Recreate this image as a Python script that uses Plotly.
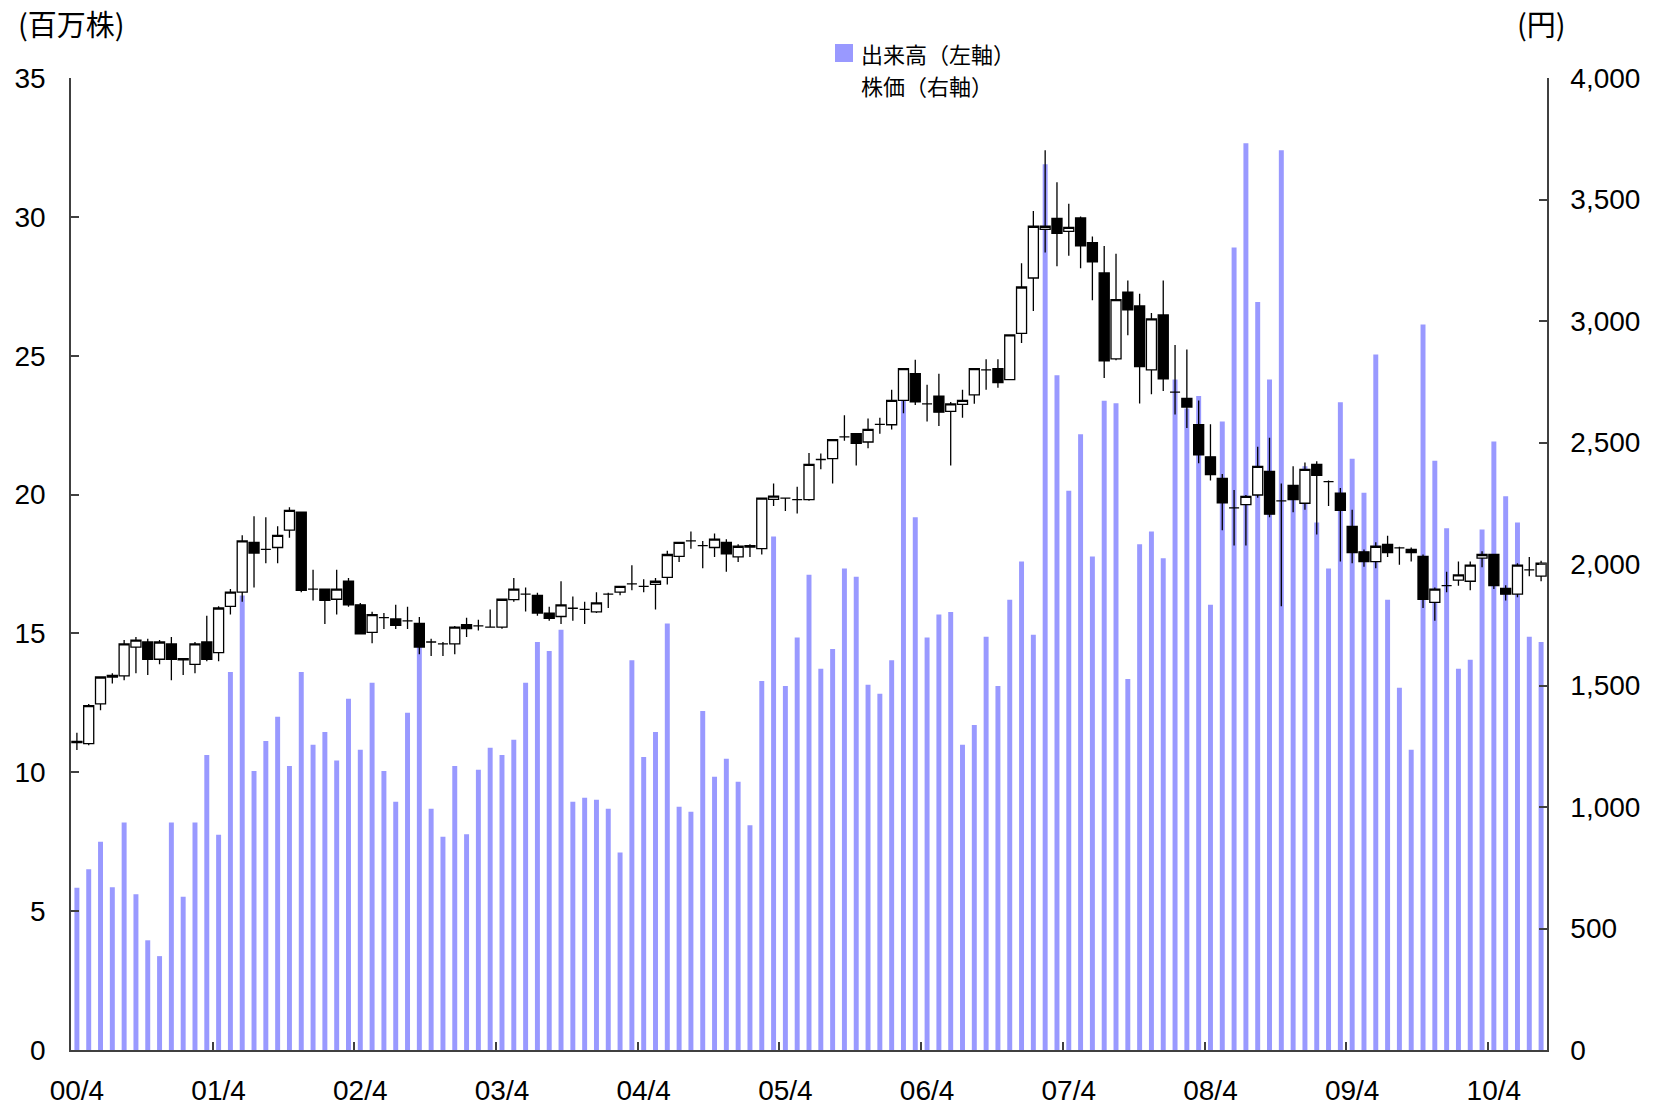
import plotly.graph_objects as go

# Year-start labels on the month axis (April of each year)
tick_labels = ["00/4", "01/4", "02/4", "03/4", "04/4", "05/4",
               "06/4", "07/4", "08/4", "09/4", "10/4"]

# Monthly trading volume, million shares (left axis), 2000/4 .. 2010/8
volume = [
    5.84, 6.51, 7.50, 5.86, 8.19, 5.61, 3.95, 3.38, 8.19, 5.52, 8.19, 10.62,
    7.75, 13.61, 16.37, 10.05, 11.13, 12.00, 10.23, 13.61, 10.99, 11.45, 10.42, 12.65,
    10.81, 13.22, 10.05, 8.94, 12.14, 14.53, 8.69, 7.68, 10.23, 7.77, 10.09, 10.88,
    10.62, 11.17, 13.22, 14.69, 14.37, 15.13, 8.94, 9.08, 9.01, 8.69, 7.11, 14.03,
    10.55, 11.45, 15.36, 8.76, 8.58, 12.21, 9.84, 10.49, 9.66, 8.09, 13.29, 18.49,
    13.11, 14.85, 17.11, 13.73, 14.44, 17.34, 17.04, 13.15, 12.83, 14.03, 23.40, 19.18,
    14.85, 15.68, 15.77, 10.99, 11.70, 14.88, 13.11, 16.21, 17.59, 14.95, 31.89, 24.30,
    20.14, 22.17, 17.77, 23.38, 23.29, 13.36, 18.21, 18.67, 17.71, 24.14, 23.10, 23.55,
    16.03, 22.63, 28.90, 32.65, 26.93, 24.14, 32.40, 20.00, 21.02, 18.99, 17.34, 23.32,
    21.29, 20.07, 25.04, 16.21, 13.04, 10.81, 26.12, 21.22, 18.79, 13.73, 14.05, 18.74,
    21.91, 19.94, 18.99, 14.88, 14.69,
]

# Monthly share price, yen (right axis)
price_open = [
    1265, 1261, 1424, 1535, 1540, 1658, 1679, 1608, 1671, 1610, 1587, 1679,
    1635, 1826, 1884, 2089, 2060, 2068, 2139, 2213, 1897, 1897, 1855, 1929,
    1832, 1719, 1779, 1774, 1766, 1756, 1679, 1671, 1671, 1750, 1745, 1740,
    1740, 1853, 1876, 1871, 1798, 1784, 1818, 1813, 1803, 1876, 1884, 1918,
    1908, 1916, 1945, 2031, 2095, 2076, 2068, 2089, 2029, 2076, 2063, 2266,
    2271, 2265, 2265, 2430, 2434, 2523, 2536, 2502, 2575, 2573, 2673, 2783,
    2659, 2691, 2628, 2657, 2696, 2799, 2804, 2759, 2949, 3177, 3377, 3422,
    3369, 3424, 3322, 3198, 2844, 3119, 3062, 2799, 3025, 2707, 2681, 2573,
    2441, 2352, 2231, 2244, 2284, 2381, 2260, 2323, 2250, 2410, 2339, 2292,
    2155, 2050, 2010, 2081, 2066, 2060, 2031, 1842, 1911, 1934, 1929, 2024,
    2039, 1900, 1876, 1976, 1950,
]
price_high = [
    1306, 1424, 1535, 1550, 1687, 1700, 1692, 1687, 1700, 1613, 1679, 1787,
    1826, 1897, 2118, 2197, 2192, 2155, 2234, 2213, 1976, 1897, 1976, 1942,
    1840, 1803, 1798, 1832, 1824, 1782, 1692, 1679, 1745, 1779, 1771, 1813,
    1855, 1942, 1903, 1882, 1824, 1929, 1866, 1845, 1884, 1882, 1908, 1995,
    1937, 1942, 2055, 2089, 2134, 2095, 2126, 2102, 2081, 2081, 2271, 2331,
    2271, 2318, 2457, 2455, 2512, 2612, 2536, 2599, 2602, 2717, 2804, 2841,
    2738, 2783, 2667, 2717, 2804, 2843, 2843, 2943, 3238, 3453, 3703, 3571,
    3482, 3430, 3348, 3309, 3277, 3167, 3112, 3033, 3167, 2901, 2883, 2673,
    2575, 2370, 2305, 2284, 2483, 2520, 2331, 2402, 2418, 2423, 2344, 2313,
    2223, 2060, 2089, 2116, 2071, 2068, 2039, 1903, 1968, 2010, 2010, 2052,
    2039, 1913, 2003, 2029, 2013,
]
price_low = [
    1235, 1254, 1398, 1508, 1522, 1550, 1543, 1587, 1522, 1543, 1550, 1600,
    1600, 1792, 1845, 1903, 2003, 2003, 2108, 1884, 1850, 1753, 1792, 1824,
    1713, 1674, 1732, 1732, 1732, 1629, 1621, 1621, 1629, 1700, 1726, 1740,
    1734, 1845, 1805, 1787, 1766, 1753, 1766, 1753, 1798, 1819, 1871, 1892,
    1884, 1813, 1916, 2008, 2063, 1982, 2029, 1968, 2008, 2029, 2039, 2239,
    2218, 2208, 2260, 2390, 2331, 2507, 2405, 2476, 2536, 2554, 2620, 2654,
    2586, 2568, 2405, 2602, 2659, 2717, 2725, 2759, 2909, 3041, 3282, 3225,
    3269, 3217, 3085, 2765, 2838, 2941, 2660, 2699, 2712, 2615, 2560, 2415,
    2344, 2139, 2076, 2076, 2273, 2192, 1826, 2213, 2223, 2121, 2239, 2010,
    2003, 1989, 1982, 2029, 1997, 2010, 1819, 1766, 1884, 1911, 1892, 1987,
    1897, 1850, 1863, 1950, 1929,
]
price_close = [
    1270, 1417, 1535, 1542, 1671, 1687, 1608, 1679, 1608, 1606, 1671, 1608,
    1819, 1884, 2095, 2045, 2060, 2118, 2221, 1892, 1897, 1850, 1897, 1832,
    1713, 1792, 1779, 1748, 1766, 1658, 1679, 1671, 1740, 1734, 1745, 1740,
    1855, 1897, 1876, 1798, 1776, 1832, 1818, 1813, 1840, 1876, 1908, 1918,
    1908, 1929, 2039, 2089, 2095, 2076, 2102, 2042, 2073, 2070, 2271, 2279,
    2271, 2265, 2410, 2430, 2512, 2523, 2497, 2554, 2575, 2673, 2804, 2667,
    2659, 2625, 2659, 2673, 2804, 2799, 2746, 2943, 3140, 3390, 3390, 3361,
    3385, 3309, 3243, 2836, 3088, 3046, 2812, 3009, 2762, 2707, 2646, 2449,
    2368, 2252, 2231, 2278, 2402, 2205, 2260, 2265, 2389, 2365, 2339, 2221,
    2047, 2010, 2073, 2047, 2066, 2047, 1855, 1897, 1911, 1955, 1995, 2039,
    1911, 1876, 1995, 1976, 2003,
]

n = len(volume)
x = list(range(n))

# Page geometry and plot-area margins (pixels)
W, H = 1661, 1107
ML, MR, MT, MB = 71, 114, 78, 57
PW = W - ML - MR
PH = H - MT - MB


def xp(px):
    """Pixel column -> paper x."""
    return (px - ML) / PW


def yp(py):
    """Pixel row (from top) -> paper y."""
    return (H - MB - py) / PH


AXIS_COLOR = "#404040"
NUM_FONT = dict(family="Liberation Sans, Arial, sans-serif", size=28, color="black")
JP_FONT = "Noto Sans CJK JP, sans-serif"

fig = go.Figure()

fig.add_trace(go.Bar(
    x=x, y=volume, name="出来高（左軸）",
    marker=dict(color="#9999FF", line=dict(width=0)),
    width=0.42, yaxis="y", showlegend=False,
))

fig.add_trace(go.Candlestick(
    x=x, open=price_open, high=price_high, low=price_low, close=price_close,
    name="株価（右軸）", yaxis="y2", whiskerwidth=0, showlegend=False,
    increasing=dict(line=dict(color="black", width=1.3), fillcolor="white"),
    decreasing=dict(line=dict(color="black", width=1.3), fillcolor="black"),
))

fig.update_layout(
    width=W, height=H,
    margin=dict(l=ML, r=MR, t=MT, b=MB, pad=0, autoexpand=False),
    paper_bgcolor="white", plot_bgcolor="white",
    boxgap=0.15, boxgroupgap=0,
    showlegend=False,
    xaxis=dict(
        range=[-0.5, n - 0.5],
        tickmode="array",
        tickvals=[12 * k for k in range(len(tick_labels))],
        ticktext=tick_labels,
        ticks="",
        tickfont=NUM_FONT,
        ticklabelstandoff=15,
        showline=True, linecolor=AXIS_COLOR, linewidth=1.5,
        showgrid=False, zeroline=False, automargin=False,
        minor=dict(
            tickmode="array",
            tickvals=[12 * k - 0.5 for k in range(1, len(tick_labels))],
            ticks="inside", ticklen=8, tickwidth=1.5, tickcolor=AXIS_COLOR,
            showgrid=False,
        ),
        rangeslider=dict(visible=False),
        fixedrange=True,
    ),
    yaxis=dict(
        range=[0, 35], dtick=5, tick0=0,
        ticks="inside", ticklen=8, tickwidth=1.5, tickcolor=AXIS_COLOR,
        tickfont=NUM_FONT, ticklabelstandoff=18,
        showline=True, linecolor=AXIS_COLOR, linewidth=1.5,
        showgrid=False, zeroline=False, fixedrange=True, automargin=False,
    ),
    yaxis2=dict(
        range=[0, 4000], dtick=500, tick0=0, tickformat=",d",
        overlaying="y", side="right",
        ticks="inside", ticklen=8, tickwidth=1.5, tickcolor=AXIS_COLOR,
        tickfont=NUM_FONT, ticklabelstandoff=16,
        showline=True, linecolor=AXIS_COLOR, linewidth=1.5,
        showgrid=False, zeroline=False, fixedrange=True, automargin=False,
    ),
)

# Axis unit captions
fig.add_annotation(text="(百万株)", xref="paper", yref="paper",
                   x=xp(16), y=yp(23), xanchor="left", yanchor="middle",
                   showarrow=False, font=dict(family=JP_FONT, size=29, color="black"))
fig.add_annotation(text="(円)", xref="paper", yref="paper",
                   x=xp(1515), y=yp(23), xanchor="left", yanchor="middle",
                   showarrow=False, font=dict(family=JP_FONT, size=29, color="black"))

# Legend block: swatch for the volume bars, plain label for the price candles
fig.add_shape(type="rect", xref="paper", yref="paper",
              x0=xp(835), x1=xp(853), y0=yp(62), y1=yp(44),
              fillcolor="#9999FF", line=dict(width=0))
for label, row_y in (("出来高（左軸）", 53), ("株価（右軸）", 85)):
    fig.add_annotation(
        text=label, xref="paper", yref="paper", x=xp(859), y=yp(row_y),
        xanchor="left", yanchor="middle", align="left",
        showarrow=False, font=dict(family=JP_FONT, size=22, color="black"),
    )

fig.write_html(
    "out.html",
    config={"displayModeBar": False},
    post_script="document.body.style.margin='0';document.body.style.padding='0';",
)
